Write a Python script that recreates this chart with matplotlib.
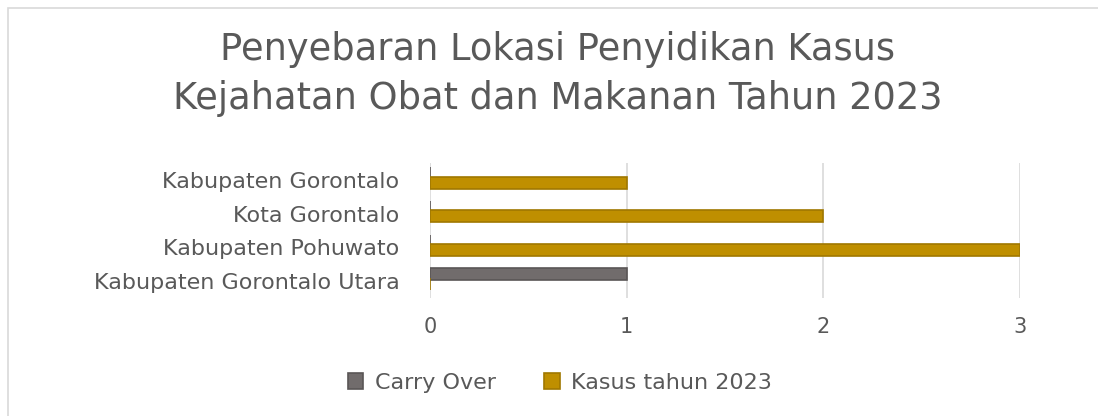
import matplotlib.pyplot as plt
import numpy as np
from matplotlib.patches import Rectangle

# data
categories = ["Kabupaten Gorontalo Utara", "Kabupaten Pohuwato",
              "Kota Gorontalo", "Kabupaten Gorontalo"]
carry_over = [1, 0, 0, 0]
kasus_2023 = [0, 3, 2, 1]
series_names = ["Carry Over", "Kasus tahun 2023"]
x_ticks = [0, 1, 2, 3]

text_color = "#595959"
gray = "#716c6c"
gold = "#bf8f00"

fig = plt.figure(figsize=(10.98, 4.16), dpi=100)

# chart frame (left and top edges visible)
fig.patches.append(Rectangle((8 / 1098, -0.1), 1.2, (416 - 8) / 416 + 0.1,
                             transform=fig.transFigure, fill=False,
                             edgecolor="#d9d9d9", linewidth=1.2))

fig.text(0.508, 0.88, "Penyebaran Lokasi Penyidikan Kasus",
         ha="center", va="center", fontsize=26.5, color=text_color)
fig.text(0.508, 0.764, "Kejahatan Obat dan Makanan Tahun 2023",
         ha="center", va="center", fontsize=26.5, color=text_color)

ax = fig.add_axes([430 / 1098, 118 / 416, 590 / 1098, 135 / 416])
y = np.arange(len(categories))
h = 0.36
ax.barh(y + 0.2, carry_over, height=h, color=gray, edgecolor="#5a5656",
        linewidth=1.2, label=series_names[0], zorder=3)
ax.barh(y - 0.08, kasus_2023, height=h, color=gold, edgecolor="#a07800",
        linewidth=1.2, label=series_names[1], zorder=3)

ax.set_xlim(0, 3)
ax.set_ylim(-0.5, 3.5)
ax.set_yticks(y)
ax.set_yticklabels(categories, fontsize=16, color=text_color)
ax.set_xticks(x_ticks)
ax.set_xticklabels([str(t) for t in x_ticks], fontsize=15, color=text_color)
ax.tick_params(length=0, pad=22, axis="y")
ax.tick_params(length=0, pad=14, axis="x")
ax.grid(axis="x", color="#d9d9d9", linewidth=1.2, zorder=0)
for s in ax.spines.values():
    s.set_visible(False)

handles, labels = ax.get_legend_handles_labels()
fig.legend(handles, labels, loc="center", bbox_to_anchor=(0.51, 0.08), ncol=2,
           frameon=False, fontsize=16, labelcolor=text_color, handlelength=0.7,
           handleheight=0.7, columnspacing=2.2, handletextpad=0.5)

fig.savefig("out.png", dpi=100)
